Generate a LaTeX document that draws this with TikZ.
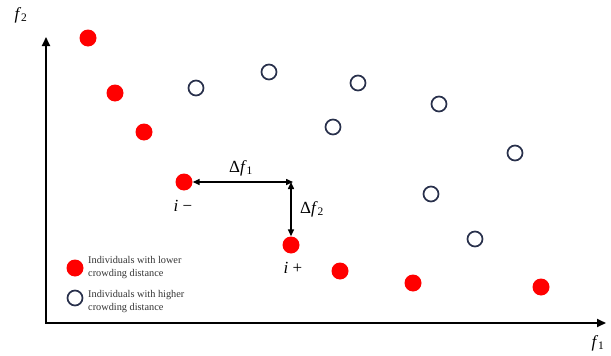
\documentclass[tikz,border=0pt]{standalone}
\usepackage{fontspec}
\setmainfont{Liberation Serif}
\usetikzlibrary{arrows.meta}
\definecolor{navy}{RGB}{40,48,75}
\begin{document}
\begin{tikzpicture}[x=1pt,y=-1pt,
  redpt/.style={circle,fill=red,inner sep=0pt,minimum size=17pt},
  holpt/.style={circle,draw=navy,line width=1.7pt,inner sep=0pt,minimum size=15pt},
  axis/.style={line width=1.9pt,-{Triangle[length=9pt,width=8pt]}},
  dim/.style={line width=1.5pt,{Triangle[length=7pt,width=6pt]}-{Triangle[length=7pt,width=6pt]}},
  lbl/.style={font=\fontsize{17}{17}\selectfont,inner sep=0pt},
  sub/.style={},
  leg/.style={font=\fontsize{10.3}{13}\selectfont,align=left,anchor=west,inner sep=0pt,text=black!80}]
\newcommand{\sbs}[1]{\textsubscript{\fontsize{11.5}{11.5}\selectfont #1}}
\useasboundingbox (0,0) rectangle (611,356);
\coordinate (O) at (46,323);
\coordinate (Ytop) at (46,37);
\coordinate (Xend) at (606,323);
\draw[axis] (O) -- (Ytop);
\draw[axis] ([xshift=-0.9pt]O) -- (Xend);
\node[lbl] (f2) at (21,15) {\textit{f}\sbs{2}};
\node[lbl] (f1) at (598,343) {\textit{f}\sbs{1}};
% red points
\node[redpt] (r1) at (88,38) {};
\node[redpt] (r2) at (115,93) {};
\node[redpt] (r3) at (144,132) {};
\node[redpt] (im) at (184,182) {};
\node[redpt] (ip) at (291,245) {};
\node[redpt] (r6) at (340,271) {};
\node[redpt] (r7) at (413,283) {};
\node[redpt] (r8) at (541,287) {};
% hollow points
\node[holpt] (h1) at (196,88) {};
\node[holpt] (h2) at (269,72) {};
\node[holpt] (h3) at (358,83) {};
\node[holpt] (h4) at (333,127) {};
\node[holpt] (h5) at (439,104) {};
\node[holpt] (h6) at (515,153) {};
\node[holpt] (h7) at (431,194) {};
\node[holpt] (h8) at (475,239) {};
% crowding distance arrows
\coordinate (corner) at (293,182);
\draw[dim] (im.east) -- (corner);
\draw[dim] (291,182) -- (ip.north);
\node[lbl] (df1) at (241,168) {Δ\textit{f}\sbs{1}};
\node[lbl] (df2) at (312,209) {Δ\textit{f}\sbs{2}};
\node[lbl] (iminus) at (183,206) {\textit{i} −};
\node[lbl] (iplus) at (293,268) {\textit{i} +};
% legend
\node[redpt] (lr) at (75,268) {};
\node[leg] (lrt) at (88,267.5) {Individuals with lower\\crowding distance};
\node[holpt] (lh) at (75,298) {};
\node[leg] (lht) at (88,302) {Individuals with higher\\crowding distance};
\end{tikzpicture}
\end{document}
